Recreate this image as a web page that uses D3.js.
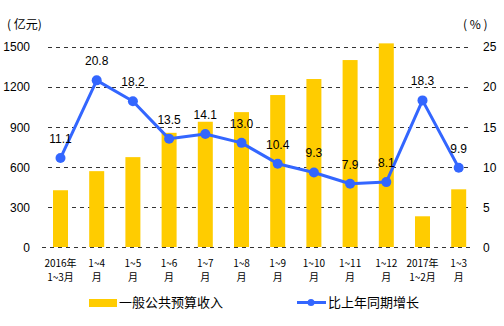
<!DOCTYPE html>
<html>
<head>
<meta charset="utf-8">
<script src="https://cdn.jsdelivr.net/npm/d3@7"></script>
<style>
  html, body { margin: 0; padding: 0; background: #fff; }
  svg { display: block; }
  text { font-family: "Liberation Sans", Arial, "Noto Sans CJK SC", sans-serif; fill: #000; }
  .cjk { font-family: "Noto Sans CJK SC", "Liberation Sans", sans-serif; }
</style>
</head>
<body>
<svg id="chart" width="504" height="326"></svg>
<script>
// Periods (two-line labels)
const periods = [
  ["2016年", "1~3月"], ["1~4", "月"], ["1~5", "月"], ["1~6", "月"],
  ["1~7", "月"], ["1~8", "月"], ["1~9", "月"], ["1~10", "月"],
  ["1~11", "月"], ["1~12", "月"], ["2017年", "1~2月"], ["1~3", "月"]
];
// General public budget revenue (100 million yuan)
const revenue = [425, 568, 673, 855, 938, 1010, 1138, 1258, 1400, 1525, 230, 432];
// Year-on-year growth (%)
const growth = [11.1, 20.8, 18.2, 13.5, 14.1, 13.0, 10.4, 9.3, 7.9, 8.1, 18.3, 9.9];
const leftTicks = [0, 300, 600, 900, 1200, 1500];
const rightTicks = [0, 5, 10, 15, 20, 25];
const seriesNames = ["一般公共预算收入", "比上年同期增长"];

const barColor = "#FFCC00";
const lineColor = "#3366FF";

const svg = d3.select("#chart");

const x = d3.scaleBand().domain(d3.range(periods.length)).range([42.4, 476.8]).padding(0);
const yL = d3.scaleLinear().domain([0, 1500]).range([247, 46.7]);
const yR = d3.scaleLinear().domain([0, 25]).range([247, 46.7]);
const barW = 15;
const cx = i => x(i) + x.bandwidth() / 2;

// Gridlines
svg.append("g").selectAll("line").data(leftTicks).join("line")
  .attr("x1", d => d === 0 ? 42 : 48).attr("x2", 472)
  .attr("y1", d => Math.round(yL(d)) + 0.5).attr("y2", d => Math.round(yL(d)) + 0.5)
  .attr("stroke", "#333").attr("stroke-width", 1).attr("stroke-dasharray", "4,4");

// Left axis
const axL = svg.append("g").attr("transform", "translate(30,0)")
  .call(d3.axisLeft(yL).tickValues(leftTicks).tickFormat(d3.format("d")).tickSize(0).tickPadding(0));
axL.select(".domain").remove();
axL.selectAll("text").style("font-size", "12px").attr("dy", "0.35em");

// Right axis
const axR = svg.append("g").attr("transform", "translate(483,0)")
  .call(d3.axisRight(yR).tickValues(rightTicks).tickFormat(d3.format("d")).tickSize(0).tickPadding(0));
axR.select(".domain").remove();
axR.selectAll("text").style("font-size", "12px").attr("dy", "0.35em");

// Unit labels
svg.append("text").attr("class", "cjk").attr("x", 7).attr("y", 29)
  .style("font-size", "12px").attr("xml:space", "preserve").text("( 亿元)");
svg.append("text").attr("class", "cjk").attr("x", 463).attr("y", 29)
  .style("font-size", "12px").attr("xml:space", "preserve").text("( % )");

// Bars
svg.append("g").selectAll("rect").data(revenue).join("rect")
  .attr("x", (d, i) => cx(i) - barW / 2)
  .attr("y", d => yL(d))
  .attr("width", barW)
  .attr("height", d => yL(0) - yL(d))
  .attr("fill", barColor);

// Growth line
const line = d3.line().x((d, i) => cx(i)).y(d => yR(d));
svg.append("path").datum(growth)
  .attr("d", line).attr("fill", "none")
  .attr("stroke", lineColor).attr("stroke-width", 3).attr("stroke-linejoin", "round");
svg.append("g").selectAll("circle").data(growth).join("circle")
  .attr("cx", (d, i) => cx(i)).attr("cy", d => yR(d)).attr("r", 5)
  .attr("fill", lineColor);

// Value labels
svg.append("g").selectAll("text").data(growth).join("text")
  .attr("x", (d, i) => cx(i)).attr("y", d => yR(d) - 15)
  .attr("text-anchor", "middle").style("font-size", "12px")
  .text(d => d.toFixed(1));

// Category labels
const xl = svg.append("g").selectAll("text").data(periods).join("text")
  .attr("class", "cjk")
  .attr("text-anchor", "middle").style("font-size", "10px");
xl.append("tspan").attr("x", (d, i) => cx(i)).attr("y", 267).text(d => d[0]);
xl.append("tspan").attr("x", (d, i) => cx(i)).attr("y", 281).text(d => d[1]);

// Legend
const lg = svg.append("g");
lg.append("rect").attr("x", 89).attr("y", 299).attr("width", 28).attr("height", 8).attr("fill", barColor);
lg.append("text").attr("class", "cjk").attr("x", 119).attr("y", 307).style("font-size", "13px").text(seriesNames[0]);
lg.append("line").attr("x1", 297).attr("x2", 326).attr("y1", 302.5).attr("y2", 302.5)
  .attr("stroke", lineColor).attr("stroke-width", 3);
lg.append("circle").attr("cx", 311).attr("cy", 302.5).attr("r", 3.5).attr("fill", lineColor);
lg.append("text").attr("class", "cjk").attr("x", 328).attr("y", 307).style("font-size", "13px").text(seriesNames[1]);
</script>
</body>
</html>
